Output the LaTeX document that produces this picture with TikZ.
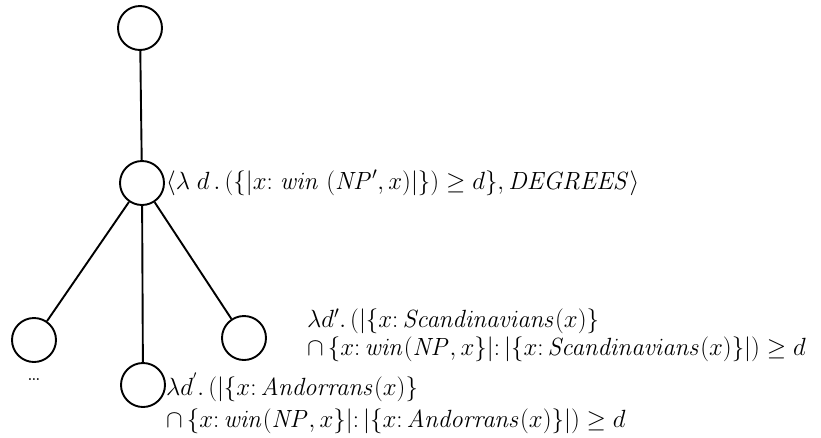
\documentclass[tikz,border=0pt]{standalone}
\usepackage{amsmath,amssymb}
\usetikzlibrary{positioning}

\begin{document}
\begin{tikzpicture}[x=1pt,y=-1pt, font=\fontsize{23.5}{27.5}\selectfont, tnode/.style={draw,circle,line width=1.9pt,minimum size=44pt,inner sep=0pt}, edge/.style={line width=1.9pt}, lbl/.style={align=left,inner sep=0pt}]
\useasboundingbox (0,0) rectangle (821,437);
\node[tnode] (root) at (140,28) {};
\node[tnode] (mid) at (142,183) {};
\node[tnode] (left) at (34,340) {};
\node[tnode] (centre) at (143,385) {};
\node[tnode] (right) at (244,338) {};
\node (dots) at (34,380) {\dots};
\node[lbl,anchor=west,right=1pt of mid] (degrees) {$\langle\lambda\;d\,.\,(\{|x{:}\ \mathit{win}\ (\mathit{NP}',x)|\})\geq d\},\mathit{DEGREES}\rangle$};
\node[lbl,anchor=north west] (scand) at (307,309) {$\lambda d'.\,(|\{x{:}\,\mathit{Scandinavians}(x)\}$\\$\cap\,\{x{:}\,\mathit{win}(\mathit{NP},x\}|{:}\,|\{x{:}\,\mathit{Scandinavians}(x)\}|)\geq d$};
\node[lbl,anchor=north west] (andor) at (166,373) {$\lambda d^{'}.\,(|\{x{:}\,\mathit{Andorrans}(x)\}$\\[5pt]$\cap\,\{x{:}\,\mathit{win}(\mathit{NP},x\}|{:}\,|\{x{:}\,\mathit{Andorrans}(x)\}|)\geq d$};
\draw[edge] (root) -- (mid);
\draw[edge] (mid) -- (left);
\draw[edge] (mid) -- (centre);
\draw[edge] (mid) -- (right);
\end{tikzpicture}
\end{document}
